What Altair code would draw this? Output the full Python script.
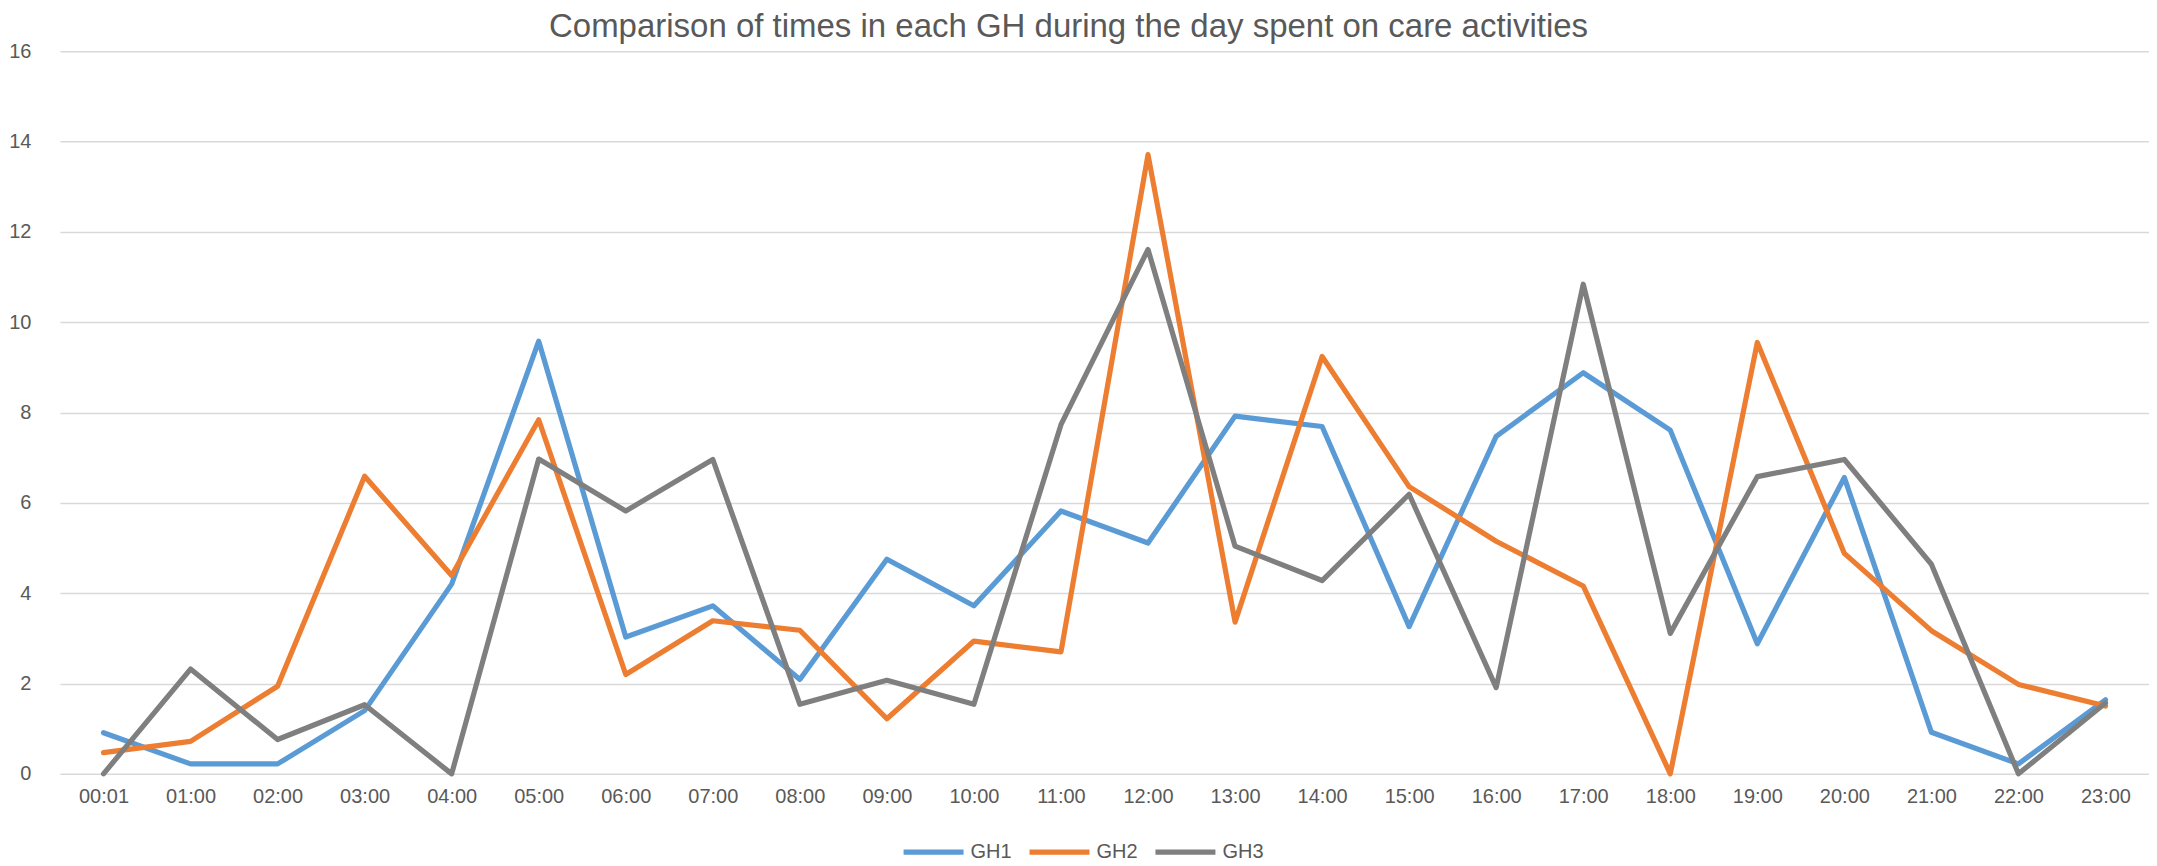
import altair as alt
import pandas as pd

times = ["00:01", "01:00", "02:00", "03:00", "04:00", "05:00", "06:00", "07:00",
         "08:00", "09:00", "10:00", "11:00", "12:00", "13:00", "14:00", "15:00",
         "16:00", "17:00", "18:00", "19:00", "20:00", "21:00", "22:00", "23:00"]

gh1 = [0.91, 0.22, 0.22, 1.40, 4.20, 9.58, 3.03, 3.72, 2.09, 4.75, 3.72, 5.82,
       5.11, 7.92, 7.69, 3.26, 7.47, 8.88, 7.61, 2.88, 6.56, 0.92, 0.22, 1.64]
gh2 = [0.47, 0.72, 1.94, 6.59, 4.39, 7.84, 2.20, 3.39, 3.18, 1.22, 2.94, 2.70,
       13.71, 3.36, 9.24, 6.36, 5.15, 4.16, 0.0, 9.55, 4.88, 3.17, 1.98, 1.50]
gh3 = [0.0, 2.32, 0.76, 1.53, 0.0, 6.97, 5.82, 6.96, 1.54, 2.07, 1.54, 7.73,
       11.61, 5.04, 4.28, 6.19, 1.91, 10.84, 3.11, 6.58, 6.96, 4.64, 0.0, 1.57]

series = ["GH1", "GH2", "GH3"]
colors = ["#5B9BD5", "#ED7D31", "#7F7F7F"]

rows = []
for name, vals in zip(series, [gh1, gh2, gh3]):
    for t, v in zip(times, vals):
        rows.append({"time": t, "value": v, "series": name})
df = pd.DataFrame(rows)

FONT = "Liberation Sans"
GREY = "#595959"

chart = alt.Chart(df).mark_line(strokeWidth=5.2, strokeCap="round", strokeJoin="round").encode(
    x=alt.X("time:N", sort=times,
            scale=alt.Scale(type="point", padding=0.5),
            axis=alt.Axis(title=None, labelAngle=0, ticks=False, domain=False, grid=False,
                          labelFont=FONT, labelFontSize=20, labelColor=GREY,
                          labelPadding=13)),
    y=alt.Y("value:Q", scale=alt.Scale(domain=[0, 16], nice=False, zero=True),
            axis=alt.Axis(title=None, values=[0, 2, 4, 6, 8, 10, 12, 14, 16],
                          ticks=False, domain=False, grid=True,
                          gridColor="#D9D9D9", gridWidth=1.5,
                          labelFont=FONT, labelFontSize=20, labelColor=GREY,
                          labelPadding=29)),
    color=alt.Color("series:N", scale=alt.Scale(domain=series, range=colors),
                    legend=alt.Legend(title=None, orient="none", direction="horizontal",
                                      legendX=841, legendY=768,
                                      symbolType="stroke", symbolSize=3600,
                                      symbolStrokeWidth=5.2,
                                      labelFont=FONT, labelFontSize=20, labelColor=GREY,
                                      labelOffset=4, columnPadding=6, padding=0)),
).properties(
    width=2090,
    height=723,
    title=alt.TitleParams(
        "Comparison of times in each GH during the day spent on care activities",
        font=FONT, fontSize=33, fontWeight="normal", color=GREY,
        anchor="middle", frame="group", offset=-3, dx=-36),
    padding={"left": 52, "top": 43, "right": 0, "bottom": 92},
    autosize=alt.AutoSizeParams(type="none"),
).configure_view(stroke=None)

chart.save("out.html", embed_options={"renderer": "svg", "actions": False})
